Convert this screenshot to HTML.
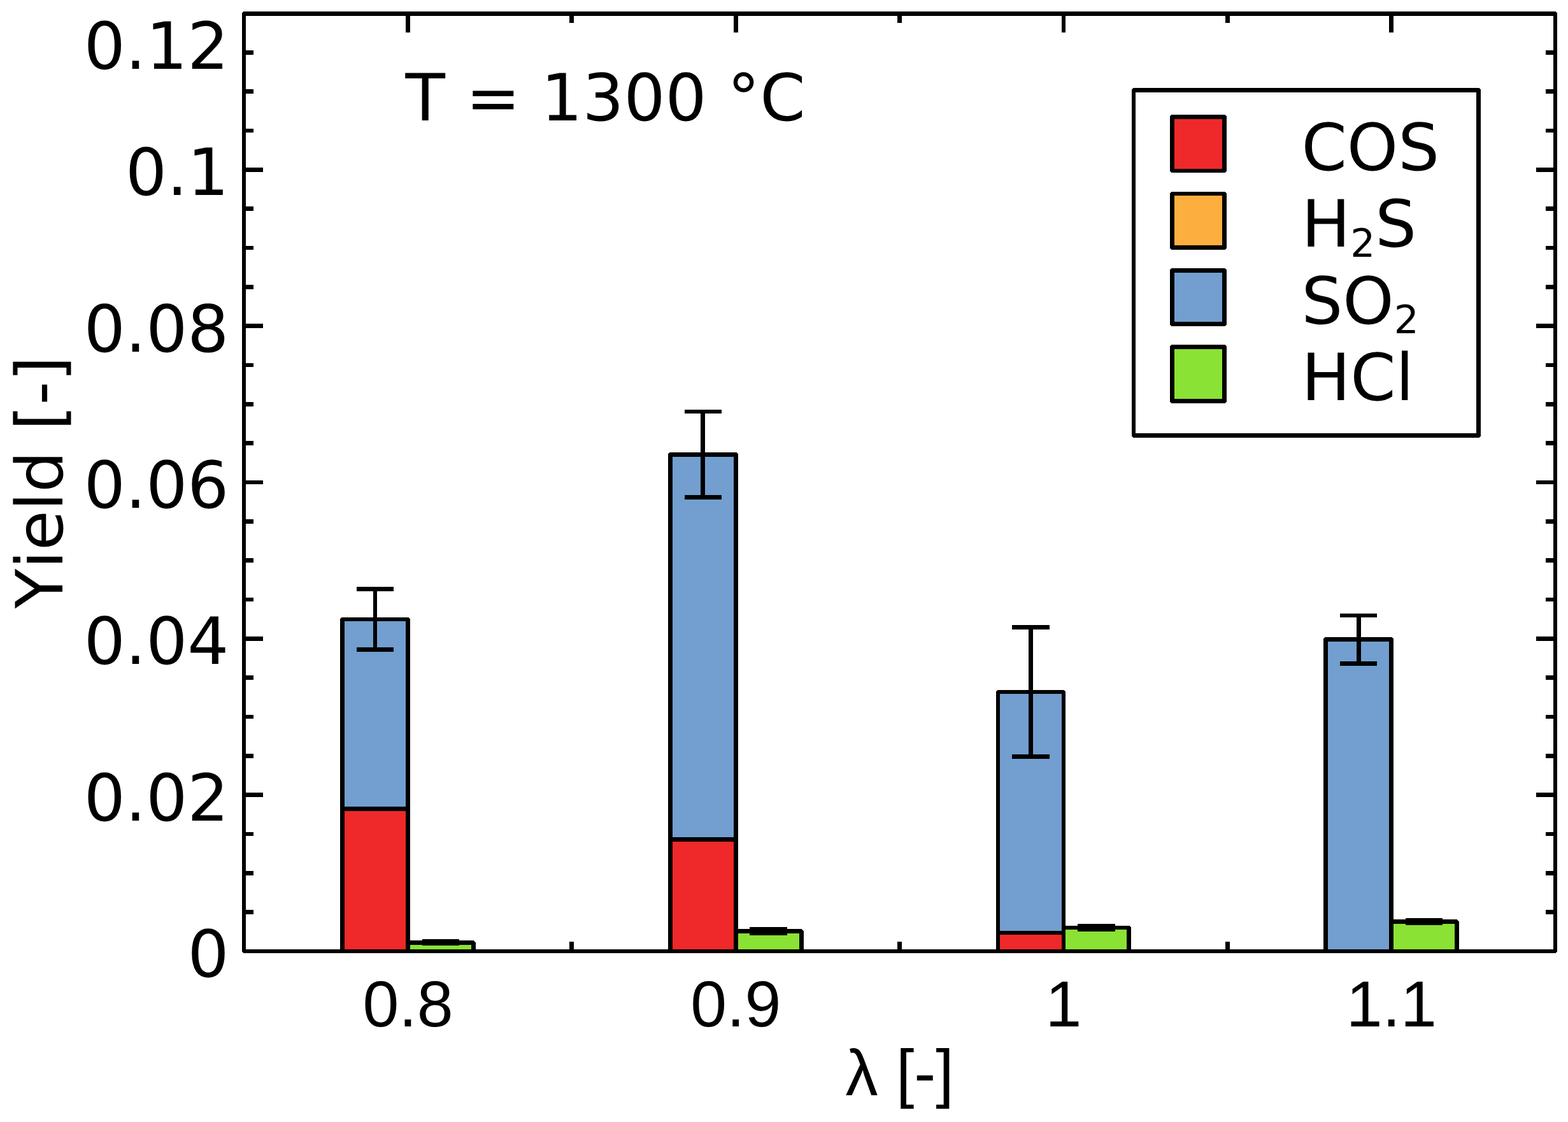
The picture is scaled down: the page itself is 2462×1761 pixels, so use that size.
<!DOCTYPE html>
<html lang="en">
<head>
<meta charset="utf-8">
<title>Yield vs. lambda at T = 1300 °C</title>
<style>
html,body{margin:0;padding:0;background:#fff;}
body{width:2462px;height:1761px;overflow:hidden;}
svg{display:block;}
svg text{font-family:'DejaVu Sans','Liberation Sans',sans-serif;fill:#000;white-space:pre;font-kerning:none;font-variant-ligatures:none;}
svg text.lib{font-family:'Liberation Sans','DejaVu Sans',sans-serif;}
</style>
</head>
<body>
<svg xmlns="http://www.w3.org/2000/svg" width="2462" height="1761" viewBox="0 0 2462 1761">
<rect x="0" y="0" width="2462" height="1761" fill="#fff"/>
<g shape-rendering="crispEdges">
<g id="bars">
<rect x="541" y="975" width="96" height="291" fill="#729FCF"/>
<rect x="541" y="1273" width="96" height="217" fill="#EF2929"/>
<rect x="644" y="1483" width="96" height="7" fill="#8AE234"/>
<rect x="534" y="969" width="7" height="527" fill="#000"/>
<rect x="637" y="969" width="7" height="527" fill="#000"/>
<rect x="534" y="969" width="110" height="6" fill="#000"/>
<rect x="534" y="1266" width="110" height="7" fill="#000"/>
<rect x="637" y="1476" width="110" height="7" fill="#000"/>
<rect x="740" y="1476" width="7" height="20" fill="#000"/>
<rect x="534" y="969" width="2" height="1" fill="#fff"/>
<rect x="534" y="970" width="1" height="1" fill="#fff"/>
<rect x="642" y="969" width="2" height="1" fill="#fff"/>
<rect x="643" y="970" width="1" height="1" fill="#fff"/>
<rect x="744" y="1476" width="3" height="1" fill="#fff"/>
<rect x="745" y="1477" width="2" height="1" fill="#fff"/>
<rect x="746" y="1478" width="1" height="1" fill="#fff"/>
<rect x="586" y="921" width="6" height="102" fill="#000"/>
<rect x="560" y="921" width="58" height="7" fill="#000"/>
<rect x="560" y="1016" width="58" height="7" fill="#000"/>
<rect x="663" y="1474" width="58" height="10" fill="#000"/>
<rect x="1056" y="717" width="96" height="597" fill="#729FCF"/>
<rect x="1056" y="1321" width="96" height="169" fill="#EF2929"/>
<rect x="1159" y="1465" width="96" height="25" fill="#8AE234"/>
<rect x="1049" y="710" width="7" height="786" fill="#000"/>
<rect x="1152" y="710" width="7" height="786" fill="#000"/>
<rect x="1049" y="710" width="110" height="7" fill="#000"/>
<rect x="1049" y="1314" width="110" height="7" fill="#000"/>
<rect x="1152" y="1458" width="110" height="7" fill="#000"/>
<rect x="1255" y="1458" width="7" height="38" fill="#000"/>
<rect x="1049" y="710" width="2" height="1" fill="#fff"/>
<rect x="1049" y="711" width="1" height="1" fill="#fff"/>
<rect x="1157" y="710" width="2" height="1" fill="#fff"/>
<rect x="1158" y="711" width="1" height="1" fill="#fff"/>
<rect x="1259" y="1458" width="3" height="1" fill="#fff"/>
<rect x="1260" y="1459" width="2" height="1" fill="#fff"/>
<rect x="1261" y="1460" width="1" height="1" fill="#fff"/>
<rect x="1100" y="643" width="7" height="141" fill="#000"/>
<rect x="1075" y="643" width="58" height="6" fill="#000"/>
<rect x="1075" y="777" width="58" height="7" fill="#000"/>
<rect x="1177" y="1455" width="59" height="13" fill="#000"/>
<rect x="1570" y="1089" width="97" height="372" fill="#729FCF"/>
<rect x="1570" y="1467" width="97" height="23" fill="#EF2929"/>
<rect x="1673" y="1459" width="96" height="31" fill="#8AE234"/>
<rect x="1564" y="1083" width="6" height="413" fill="#000"/>
<rect x="1667" y="1083" width="6" height="413" fill="#000"/>
<rect x="1564" y="1083" width="109" height="6" fill="#000"/>
<rect x="1564" y="1461" width="109" height="6" fill="#000"/>
<rect x="1667" y="1453" width="109" height="6" fill="#000"/>
<rect x="1769" y="1453" width="7" height="43" fill="#000"/>
<rect x="1564" y="1083" width="2" height="1" fill="#fff"/>
<rect x="1564" y="1084" width="1" height="1" fill="#fff"/>
<rect x="1671" y="1083" width="2" height="1" fill="#fff"/>
<rect x="1672" y="1084" width="1" height="1" fill="#fff"/>
<rect x="1774" y="1453" width="2" height="1" fill="#fff"/>
<rect x="1775" y="1454" width="1" height="1" fill="#fff"/>
<rect x="1615" y="981" width="7" height="210" fill="#000"/>
<rect x="1589" y="981" width="59" height="7" fill="#000"/>
<rect x="1589" y="1184" width="59" height="7" fill="#000"/>
<rect x="1692" y="1450" width="59" height="12" fill="#000"/>
<rect x="2085" y="1007" width="96" height="483" fill="#729FCF"/>
<rect x="2188" y="1450" width="96" height="40" fill="#8AE234"/>
<rect x="2078" y="1000" width="7" height="496" fill="#000"/>
<rect x="2181" y="1000" width="7" height="496" fill="#000"/>
<rect x="2078" y="1000" width="110" height="7" fill="#000"/>
<rect x="2181" y="1443" width="110" height="7" fill="#000"/>
<rect x="2284" y="1443" width="7" height="53" fill="#000"/>
<rect x="2078" y="1000" width="2" height="1" fill="#fff"/>
<rect x="2078" y="1001" width="1" height="1" fill="#fff"/>
<rect x="2186" y="1000" width="2" height="1" fill="#fff"/>
<rect x="2187" y="1001" width="1" height="1" fill="#fff"/>
<rect x="2288" y="1443" width="3" height="1" fill="#fff"/>
<rect x="2289" y="1444" width="2" height="1" fill="#fff"/>
<rect x="2290" y="1445" width="1" height="1" fill="#fff"/>
<rect x="2130" y="963" width="7" height="82" fill="#000"/>
<rect x="2104" y="963" width="58" height="6" fill="#000"/>
<rect x="2104" y="1038" width="58" height="7" fill="#000"/>
<rect x="2207" y="1441" width="58" height="11" fill="#000"/>
</g>
<g id="axes">
<rect x="380" y="18" width="2065" height="7" fill="#000"/>
<rect x="380" y="1490" width="2065" height="6" fill="#000"/>
<rect x="380" y="18" width="6" height="1478" fill="#000"/>
<rect x="2439" y="18" width="6" height="1478" fill="#000"/>
<rect x="380" y="18" width="2" height="1" fill="#fff"/>
<rect x="380" y="19" width="1" height="1" fill="#fff"/>
<rect x="2443" y="18" width="2" height="1" fill="#fff"/>
<rect x="2444" y="19" width="1" height="1" fill="#fff"/>
<rect x="380" y="1495" width="2" height="1" fill="#fff"/>
<rect x="380" y="1494" width="1" height="1" fill="#fff"/>
<rect x="2443" y="1495" width="2" height="1" fill="#fff"/>
<rect x="2444" y="1494" width="1" height="1" fill="#fff"/>
<rect x="637" y="25" width="7" height="26" fill="#000"/>
<rect x="637" y="1464" width="7" height="26" fill="#000"/>
<rect x="894" y="25" width="7" height="11" fill="#000"/>
<rect x="894" y="1478" width="7" height="12" fill="#000"/>
<rect x="1152" y="25" width="7" height="26" fill="#000"/>
<rect x="1152" y="1464" width="7" height="26" fill="#000"/>
<rect x="1409" y="25" width="7" height="11" fill="#000"/>
<rect x="1409" y="1478" width="7" height="12" fill="#000"/>
<rect x="1667" y="25" width="6" height="26" fill="#000"/>
<rect x="1667" y="1464" width="6" height="26" fill="#000"/>
<rect x="1924" y="25" width="7" height="11" fill="#000"/>
<rect x="1924" y="1478" width="7" height="12" fill="#000"/>
<rect x="2181" y="25" width="7" height="26" fill="#000"/>
<rect x="2181" y="1464" width="7" height="26" fill="#000"/>
<rect x="386" y="1428" width="12" height="7" fill="#000"/>
<rect x="2427" y="1428" width="12" height="7" fill="#000"/>
<rect x="386" y="1367" width="12" height="7" fill="#000"/>
<rect x="2427" y="1367" width="12" height="7" fill="#000"/>
<rect x="386" y="1306" width="12" height="6" fill="#000"/>
<rect x="2427" y="1306" width="12" height="6" fill="#000"/>
<rect x="386" y="1244" width="27" height="7" fill="#000"/>
<rect x="2412" y="1244" width="27" height="7" fill="#000"/>
<rect x="386" y="1183" width="12" height="7" fill="#000"/>
<rect x="2427" y="1183" width="12" height="7" fill="#000"/>
<rect x="386" y="1122" width="12" height="6" fill="#000"/>
<rect x="2427" y="1122" width="12" height="6" fill="#000"/>
<rect x="386" y="1060" width="12" height="7" fill="#000"/>
<rect x="2427" y="1060" width="12" height="7" fill="#000"/>
<rect x="386" y="999" width="27" height="7" fill="#000"/>
<rect x="2412" y="999" width="27" height="7" fill="#000"/>
<rect x="386" y="938" width="12" height="6" fill="#000"/>
<rect x="2427" y="938" width="12" height="6" fill="#000"/>
<rect x="386" y="876" width="12" height="7" fill="#000"/>
<rect x="2427" y="876" width="12" height="7" fill="#000"/>
<rect x="386" y="815" width="12" height="7" fill="#000"/>
<rect x="2427" y="815" width="12" height="7" fill="#000"/>
<rect x="386" y="754" width="27" height="6" fill="#000"/>
<rect x="2412" y="754" width="27" height="6" fill="#000"/>
<rect x="386" y="692" width="12" height="7" fill="#000"/>
<rect x="2427" y="692" width="12" height="7" fill="#000"/>
<rect x="386" y="631" width="12" height="7" fill="#000"/>
<rect x="2427" y="631" width="12" height="7" fill="#000"/>
<rect x="386" y="570" width="12" height="6" fill="#000"/>
<rect x="2427" y="570" width="12" height="6" fill="#000"/>
<rect x="386" y="508" width="27" height="7" fill="#000"/>
<rect x="2412" y="508" width="27" height="7" fill="#000"/>
<rect x="386" y="447" width="12" height="7" fill="#000"/>
<rect x="2427" y="447" width="12" height="7" fill="#000"/>
<rect x="386" y="386" width="12" height="6" fill="#000"/>
<rect x="2427" y="386" width="12" height="6" fill="#000"/>
<rect x="386" y="324" width="12" height="7" fill="#000"/>
<rect x="2427" y="324" width="12" height="7" fill="#000"/>
<rect x="386" y="263" width="27" height="7" fill="#000"/>
<rect x="2412" y="263" width="27" height="7" fill="#000"/>
<rect x="386" y="202" width="12" height="6" fill="#000"/>
<rect x="2427" y="202" width="12" height="6" fill="#000"/>
<rect x="386" y="140" width="12" height="7" fill="#000"/>
<rect x="2427" y="140" width="12" height="7" fill="#000"/>
<rect x="386" y="79" width="12" height="7" fill="#000"/>
<rect x="2427" y="79" width="12" height="7" fill="#000"/>
</g>
<g id="legend">
<rect x="1777" y="138" width="548" height="549" fill="#000"/>
<rect x="1783" y="145" width="535" height="535" fill="#fff"/>
<rect x="1777" y="138" width="2" height="1" fill="#fff"/>
<rect x="1777" y="139" width="1" height="1" fill="#fff"/>
<rect x="2323" y="138" width="2" height="1" fill="#fff"/>
<rect x="2324" y="139" width="1" height="1" fill="#fff"/>
<rect x="1777" y="686" width="2" height="1" fill="#fff"/>
<rect x="1777" y="685" width="1" height="1" fill="#fff"/>
<rect x="2323" y="686" width="2" height="1" fill="#fff"/>
<rect x="2324" y="685" width="1" height="1" fill="#fff"/>
<rect x="1837" y="180" width="89" height="91" fill="#000"/>
<rect x="1844" y="187" width="75" height="78" fill="#EF2929"/>
<rect x="1837" y="180" width="2" height="1" fill="#fff"/>
<rect x="1837" y="181" width="1" height="1" fill="#fff"/>
<rect x="1924" y="180" width="2" height="1" fill="#fff"/>
<rect x="1925" y="181" width="1" height="1" fill="#fff"/>
<rect x="1837" y="270" width="2" height="1" fill="#fff"/>
<rect x="1837" y="269" width="1" height="1" fill="#fff"/>
<rect x="1924" y="270" width="2" height="1" fill="#fff"/>
<rect x="1925" y="269" width="1" height="1" fill="#fff"/>
<rect x="1837" y="301" width="89" height="91" fill="#000"/>
<rect x="1844" y="307" width="75" height="78" fill="#FCAF3E"/>
<rect x="1837" y="301" width="2" height="1" fill="#fff"/>
<rect x="1837" y="302" width="1" height="1" fill="#fff"/>
<rect x="1924" y="301" width="2" height="1" fill="#fff"/>
<rect x="1925" y="302" width="1" height="1" fill="#fff"/>
<rect x="1837" y="391" width="2" height="1" fill="#fff"/>
<rect x="1837" y="390" width="1" height="1" fill="#fff"/>
<rect x="1924" y="391" width="2" height="1" fill="#fff"/>
<rect x="1925" y="390" width="1" height="1" fill="#fff"/>
<rect x="1837" y="421" width="89" height="91" fill="#000"/>
<rect x="1844" y="428" width="75" height="77" fill="#729FCF"/>
<rect x="1837" y="421" width="2" height="1" fill="#fff"/>
<rect x="1837" y="422" width="1" height="1" fill="#fff"/>
<rect x="1924" y="421" width="2" height="1" fill="#fff"/>
<rect x="1925" y="422" width="1" height="1" fill="#fff"/>
<rect x="1837" y="511" width="2" height="1" fill="#fff"/>
<rect x="1837" y="510" width="1" height="1" fill="#fff"/>
<rect x="1924" y="511" width="2" height="1" fill="#fff"/>
<rect x="1925" y="510" width="1" height="1" fill="#fff"/>
<rect x="1837" y="541" width="89" height="92" fill="#000"/>
<rect x="1844" y="548" width="75" height="78" fill="#8AE234"/>
<rect x="1837" y="541" width="2" height="1" fill="#fff"/>
<rect x="1837" y="542" width="1" height="1" fill="#fff"/>
<rect x="1924" y="541" width="2" height="1" fill="#fff"/>
<rect x="1925" y="542" width="1" height="1" fill="#fff"/>
<rect x="1837" y="632" width="2" height="1" fill="#fff"/>
<rect x="1837" y="631" width="1" height="1" fill="#fff"/>
<rect x="1924" y="632" width="2" height="1" fill="#fff"/>
<rect x="1925" y="631" width="1" height="1" fill="#fff"/>
</g>
</g>
<g id="labels" text-rendering="geometricPrecision">
<text x="359.4" y="108" font-size="102.2" text-anchor="end">0.12</text>
<text x="359.4" y="306" font-size="102.2" text-anchor="end">0.1</text>
<text x="359.4" y="552" font-size="102.2" text-anchor="end">0.08</text>
<text x="359.4" y="797" font-size="102.2" text-anchor="end">0.06</text>
<text x="359.4" y="1042" font-size="102.2" text-anchor="end">0.04</text>
<text x="359.4" y="1288" font-size="102.2" text-anchor="end">0.02</text>
<text x="359.4" y="1533" font-size="102.2" text-anchor="end">0</text>
<text x="640.50" y="1611" font-size="102.2" text-anchor="middle" class="lib">0.8</text>
<text x="1155.25" y="1611" font-size="102.2" text-anchor="middle" class="lib">0.9</text>
<text x="1670.00" y="1611" font-size="102.2" text-anchor="middle" class="lib">1</text>
<text x="2184.75" y="1611" font-size="102.2" text-anchor="middle" class="lib">1.1</text>
<text x="1412.6" y="1719" font-size="102.2" text-anchor="middle" class="lib">λ [-]</text>
<text transform="translate(97.5,954.9) rotate(-90)" x="0" y="0" font-size="102.2">Yield [-]</text>
<text x="636.5" y="189" font-size="102.2" text-anchor="start">T = 1300 °C</text>
<text x="2043.4" y="267" font-size="102.2" text-anchor="start">COS</text>
<text x="2043.4" y="387" font-size="102.2">H<tspan dy="16" font-size="61.32">2</tspan><tspan dy="-16">S</tspan></text>
<text x="2043.4" y="508" font-size="102.2">SO<tspan dy="15" font-size="61.32">2</tspan></text>
<text x="2043.4" y="628" font-size="102.2" text-anchor="start">HCl</text>
</g>
</svg>
</body>
</html>
